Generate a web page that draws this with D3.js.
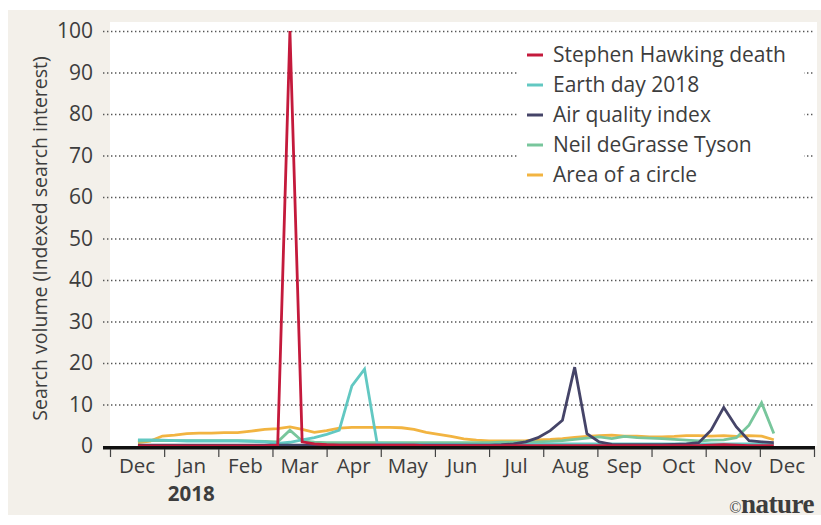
<!DOCTYPE html>
<html lang="en">
<head>
<meta charset="UTF-8">
<title>Search volume</title>
<script src="https://d3js.org/d3.v7.min.js"></script>
<style>
  body { margin: 0; background: #fff; }
  text { font-family: "Open Sans", sans-serif; fill: #3d3d3d; }
  .grid line { stroke: #555; stroke-width: 1.4; stroke-dasharray: 1.4 2.6; }
  .series { fill: none; stroke-width: 2.8; stroke-linejoin: miter; }
</style>
</head>
<body>
<script>
// weekly points (Sundays) from 17 Dec 2017 to 9 Dec 2018
const weeks = d3.timeWeek.range(new Date(2017, 11, 17), new Date(2018, 11, 10));

const monthLabels = ["Dec", "Jan", "Feb", "Mar", "Apr", "May", "Jun", "Jul", "Aug", "Sep", "Oct", "Nov", "Dec"];
const yTicks = [0, 10, 20, 30, 40, 50, 60, 70, 80, 90, 100];

const seriesNames = ["Stephen Hawking death", "Earth day 2018", "Air quality index", "Neil deGrasse Tyson", "Area of a circle"];
const seriesColors = ["#c41a3c", "#62c8c2", "#454468", "#78c69c", "#f2b441"];

const hawking = [0, 0, 0, 0, 0, 0, 0, 0, 0, 0, 0, 0.2, 100, 1, 0.5, 0.3, 0.2, 0.2, 0.2, 0.2,
  0.2, 0.2, 0.2, 0.1, 0.1, 0.1, 0.1, 0.1, 0.1, 0.1, 0.1, 0.1, 0.1, 0.1, 0.1, 0.1,
  0.1, 0.1, 0.1, 0.1, 0.1, 0.1, 0.1, 0.1, 0.1, 0.1, 0.2, 0.3, 0.2, 0.1, 0.1, 0.1];
const earthDay = [1.5, 1.5, 1.4, 1.3, 1.2, 1.2, 1.2, 1.2, 1.2, 1.1, 1, 0.6, 0.9, 1.5, 2, 2.8, 3.8, 14.5, 18.5, 0.6,
  0.5, 0.5, 0.4, 0.4, 0.4, 0.4, 0.4, 0.4, 0.4, 0.4, 0.4, 0.4, 0.4, 0.5, 0.5, 0.5,
  0.5, 0.5, 0.5, 0.5, 0.5, 0.5, 0.5, 0.5, 0.5, 0.5, 0.5, 0.5, 0.5, 0.5, 0.5, 0.4];
const airQuality = [0.2, 0.2, 0.2, 0.2, 0.2, 0.2, 0.2, 0.2, 0.2, 0.2, 0.2, 0.2, 0.2, 0.2, 0.2, 0.2, 0.2, 0.2, 0.2, 0.2,
  0.2, 0.2, 0.2, 0.2, 0.2, 0.2, 0.2, 0.2, 0.2, 0.3, 0.5, 1, 2, 3.7, 6.2, 19,
  3, 1, 0.4, 0.3, 0.3, 0.3, 0.3, 0.4, 0.5, 0.8, 3.8, 9.3, 4.6, 1.3, 1, 0.8];
const tyson = [1.2, 1.3, 1.3, 1.3, 1.3, 1.3, 1.3, 1.3, 1.3, 1.2, 1.1, 1, 3.8, 1.2, 0.9, 0.8, 0.8, 0.8, 0.8, 0.8,
  0.8, 0.8, 0.8, 0.8, 0.8, 0.8, 0.8, 0.8, 0.8, 0.9, 0.9, 1, 1, 1.1, 1.3, 1.6,
  1.9, 2.2, 1.8, 2.3, 2, 1.9, 1.8, 1.6, 1.4, 1.2, 1.4, 1.5, 2, 5, 10.4, 3];
const circle = [0.8, 1.2, 2.4, 2.6, 3, 3.1, 3.1, 3.2, 3.2, 3.6, 4, 4.2, 4.6, 4, 3.3, 3.7, 4.3, 4.5, 4.5, 4.5,
  4.5, 4.4, 4, 3.3, 2.8, 2.3, 1.7, 1.4, 1.2, 1.2, 1.2, 1.3, 1.5, 1.6, 1.8, 2.1,
  2.3, 2.5, 2.6, 2.4, 2.4, 2.2, 2.2, 2.3, 2.5, 2.5, 2.4, 2.5, 2.3, 2.5, 2.4, 1.5];

const seriesValues = [hawking, earthDay, airQuality, tyson, circle];

const width = 821, height = 525;
const plotLeft = 110, plotRight = 814, plotTop = 31, plotBottom = 446;

// months are drawn with equal widths, so place each date by its month fraction
function monthPos(d) {
  const idx = (d.getFullYear() - 2017) * 12 + d.getMonth() - 11;
  const days = new Date(d.getFullYear(), d.getMonth() + 1, 0).getDate();
  return idx + (d.getDate() - 1) / days;
}

const x = d3.scaleLinear().domain([0, 13]).range([plotLeft, plotRight]);
const y = d3.scaleLinear().domain([0, 100]).range([plotBottom, plotTop]);

const svg = d3.select("body").append("svg")
  .attr("width", width)
  .attr("height", height);

// panel background and white plot area
svg.append("rect").attr("x", 8).attr("y", 10).attr("width", 813).attr("height", 505).attr("fill", "#f3f0ea");
svg.append("rect").attr("x", plotLeft).attr("y", 22).attr("width", 817 - plotLeft).attr("height", plotBottom - 22).attr("fill", "#fff");

// y axis with dotted gridlines
const yAxis = svg.append("g")
  .attr("class", "grid")
  .attr("transform", "translate(103,0)")
  .call(d3.axisLeft(y).tickValues(yTicks).tickSize(-(813 - 103)).tickPadding(10));
yAxis.select(".domain").remove();
yAxis.selectAll(".tick").filter(d => d === 0).select("line").remove();
yAxis.selectAll("text").attr("font-size", 21).attr("font-family", "'Open Sans', sans-serif").attr("fill", "#3d3d3d");

// legend box covers the grid behind it
svg.append("rect").attr("x", 518).attr("y", 38).attr("width", 286).attr("height", 148).attr("fill", "#fff");

// lines, drawn bottom to top
const line = d3.line()
  .x((d, i) => x(monthPos(weeks[i])))
  .y(d => y(d));

const order = [4, 3, 1, 2, 0];
svg.append("g").selectAll("path")
  .data(order)
  .join("path")
  .attr("class", "series")
  .attr("stroke", k => seriesColors[k])
  .attr("d", k => line(seriesValues[k]));

// x axis: heavy baseline, month ticks below, labels centred between ticks
svg.append("line")
  .attr("x1", 103).attr("x2", 815)
  .attr("y1", plotBottom + 1.8).attr("y2", plotBottom + 1.8)
  .attr("stroke", "#111").attr("stroke-width", 3.6);

const xAxis = svg.append("g")
  .attr("transform", `translate(0,${plotBottom + 3})`)
  .call(d3.axisBottom(x).tickValues(d3.range(14)).tickSize(8).tickFormat(""));
xAxis.select(".domain").remove();
xAxis.selectAll("line").attr("stroke", "#444").attr("stroke-width", 1.2);

svg.append("g").selectAll("text")
  .data(monthLabels)
  .join("text")
  .attr("x", (d, i) => x(i + 0.5))
  .attr("y", 473)
  .attr("text-anchor", "middle")
  .attr("font-size", 20.5)
  .text(d => d);

svg.append("text")
  .attr("x", x(1.5))
  .attr("y", 501)
  .attr("text-anchor", "middle")
  .attr("font-size", 20.5)
  .attr("font-weight", 700)
  .text("2018");

svg.append("text")
  .attr("transform", `translate(47,${(plotTop + plotBottom) / 2}) rotate(-90)`)
  .attr("text-anchor", "middle")
  .attr("font-size", 19.5)
  .text("Search volume (Indexed search interest)");

// legend
const legend = svg.append("g").selectAll("g")
  .data(seriesNames)
  .join("g")
  .attr("transform", (d, i) => `translate(527,${55 + i * 30})`);
legend.append("line")
  .attr("x1", 0).attr("x2", 16)
  .attr("stroke", (d, i) => seriesColors[i])
  .attr("stroke-width", 3);
legend.append("text")
  .attr("x", 26)
  .attr("dy", "0.35em")
  .attr("font-size", 21)
  .text(d => d);

// credit
svg.append("text")
  .attr("x", 814)
  .attr("y", 513)
  .attr("text-anchor", "end")
  .style("font-family", "'Liberation Serif', serif")
  .attr("font-size", 27)
  .attr("font-weight", 700)
  .attr("letter-spacing", -0.5)
  .attr("fill", "#5a5a5a")
  .html("<tspan font-size='16' font-weight='400'>©</tspan>nature");
</script>
</body>
</html>
